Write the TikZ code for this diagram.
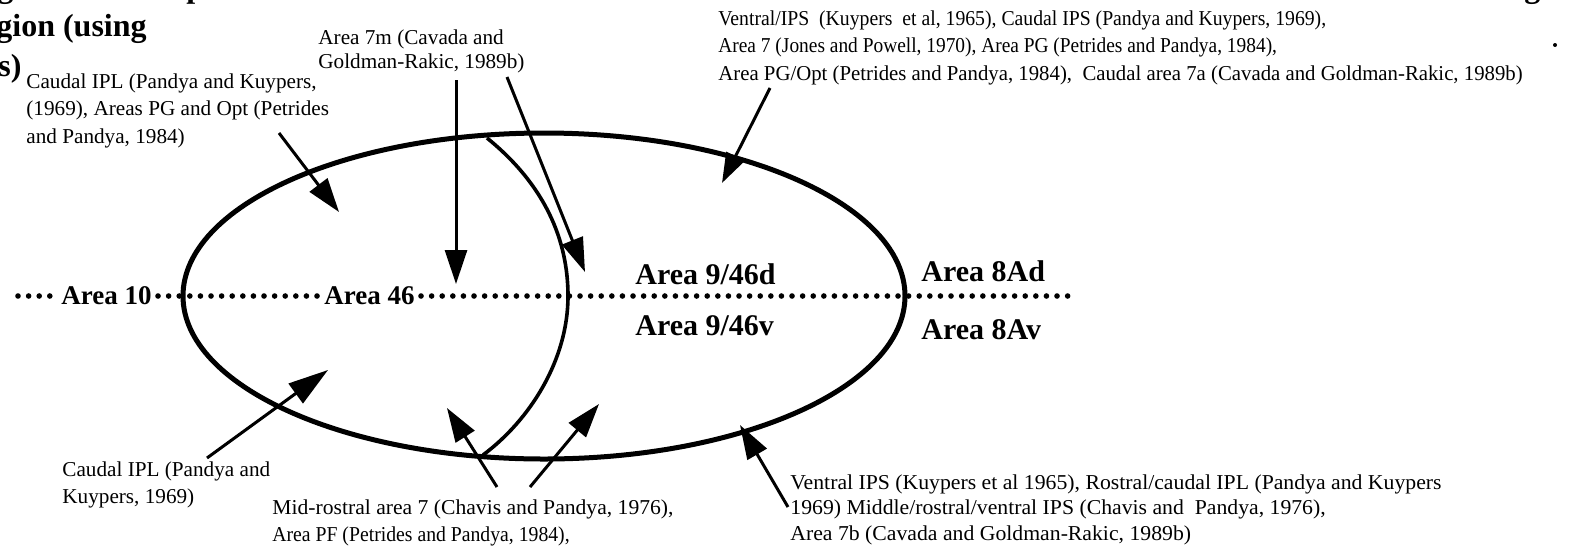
\documentclass[tikz,border=0pt]{standalone}
\usepackage{fontspec}
\usepackage{graphicx}
\setmainfont{Liberation Serif}
\usetikzlibrary{arrows.meta}
\newcommand\sx[2]{\scalebox{#1}[1]{#2}}
\tikzset{
  lbl/.style={font=\fontsize{10.6}{13.8}\selectfont, align=left, inner sep=0pt, anchor=north west},
  lblm/.style={font=\fontsize{10.6}{12.3}\selectfont, align=left, inner sep=0pt, anchor=north west},
  lblb/.style={font=\fontsize{10.6}{12.8}\selectfont, align=left, inner sep=0pt, anchor=north west},
  area/.style={font=\bfseries\fontsize{13.5}{16}\selectfont, inner sep=0pt},
  areab/.style={font=\bfseries\fontsize{15}{18}\selectfont, inner sep=0pt, anchor=base west},
  head/.style={font=\bfseries\fontsize{16}{20}\selectfont, inner sep=0pt, anchor=base west},
  arr/.style={line width=1.5pt, -{Triangle[length=17pt,width=11pt]}},
  dotline/.style={line width=2.8pt, line cap=round, dash pattern=on 0pt off 5.3pt},
  outline/.style={line width=2.5pt},
  border/.style={line width=1.8pt},
}
\begin{document}
\begin{tikzpicture}[x=0.5pt,y=-0.5pt]
\useasboundingbox (0,0) rectangle (1573,547);
\clip (0,0) rectangle (1573,547);
% header fragments
\node[head] (h0) at (-3,-3) {g};
\node[head] (h1) at (186,-3) {p};
\node[head] (h2) at (1524,-3) {g};
\node[head] (h3) at (-4,36) {gion (using};
\node[head] (h4) at (-2,76) {s)};
\fill (1555,45) circle (2);
% ellipse
\draw[outline] (544,296) ellipse [x radius=361, y radius=163];
% inner boundary
\draw[border] (487,138) .. controls (545,185) and (568,240) .. (568,296) .. controls (568,360) and (530,420) .. (483,455);
% dotted line and area labels
\coordinate (dl) at (18,296);
\coordinate (dr) at (1078,296);
\node[area, anchor=west, inner xsep=3pt] (a10) at (55,296) {Area 10};
\node[area, anchor=west, inner xsep=3pt] (a46) at (318,296) {Area 46};
\draw[dotline] (dl) -- (a10.west);
\draw[dotline] (a10.east) -- (a46.west);
\draw[dotline] (a46.east) -- (dr);
\node[areab] (a9d) at (635,284) {Area 9/46d};
\node[areab] (a9v) at (635,335) {Area 9/46v};
\node[areab] (a8d) at (921,281) {Area 8Ad};
\node[areab] (a8v) at (921,339) {Area 8Av};
% text labels
\node[lblm] (t7m) at (318,29) {Area 7m (Cavada and\\Goldman-Rakic, 1989b)};
\node[lbl] (tul) at (26,73) {Caudal IPL (Pandya and Kuypers,\\(1969), Areas PG and Opt (Petrides\\and Pandya, 1984)};
\node[lbl] (ttr) at (718,10) {\sx{0.93}{Ventral/IPS\ \ (Kuypers\ \ et al, 1965), Caudal IPS (Pandya and Kuypers, 1969),}\\\sx{0.915}{Area 7 (Jones and Powell, 1970), Area PG (Petrides and Pandya, 1984),}\\\sx{0.98}{Area PG/Opt (Petrides and Pandya, 1984),\ \ Caudal area 7a (Cavada and Goldman-Rakic, 1989b)}};
\node[lbl] (tll) at (62,461) {Caudal IPL (Pandya and\\Kuypers, 1969)};
\node[lbl] (tbm) at (272,499) {\sx{1.02}{Mid-rostral area 7 (Chavis and Pandya, 1976),}\\\sx{0.93}{Area PF (Petrides and Pandya, 1984),}};
\node[lblb] (tbr) at (790,474) {\sx{1.025}{Ventral IPS (Kuypers et al 1965), Rostral/caudal IPL (Pandya and Kuypers}\\\sx{1.025}{1969) Middle/rostral/ventral IPS (Chavis and\ \ Pandya, 1976),}\\\sx{1.025}{Area 7b (Cavada and Goldman-Rakic, 1989b)}};
% arrows
\coordinate (s1) at (456,80);  \coordinate (e1) at (456,284);
\coordinate (s2) at (507,77);  \coordinate (e2) at (585,272);
\coordinate (s3) at (770,88);  \coordinate (e3) at (722,183);
\coordinate (s4) at (279,133); \coordinate (e4) at (339,212);
\coordinate (s5) at (207,458); \coordinate (e5) at (328,370);
\coordinate (s6) at (497,487); \coordinate (e6) at (447,408);
\coordinate (s7) at (530,487); \coordinate (e7) at (599,404);
\coordinate (s8) at (788,507); \coordinate (e8) at (740,425);
\draw[arr] (s1) -- (e1);
\draw[arr] (s2) -- (e2);
\draw[arr, -{Triangle[length=15pt,width=10pt]}] (s3) -- (e3);
\draw[arr] (s4) -- (e4);
\draw[arr, -{Triangle[length=20pt,width=12pt]}] (s5) -- (e5);
\draw[arr] (s6) -- (e6);
\draw[arr] (s7) -- (e7);
\draw[arr] (s8) -- (e8);
\end{tikzpicture}
\end{document}
